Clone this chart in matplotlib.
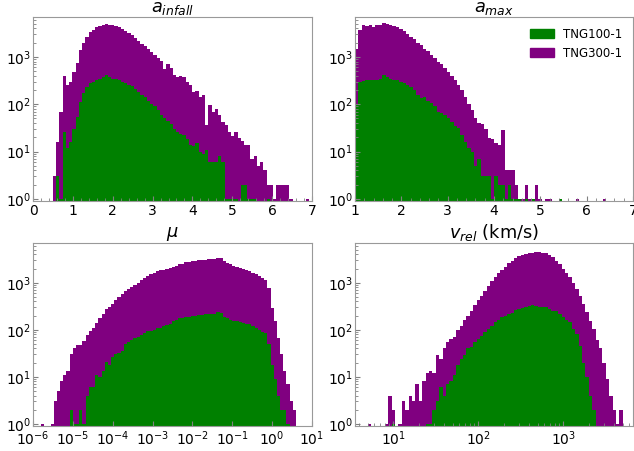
import numpy as np
import matplotlib
matplotlib.use("Agg")
import matplotlib.pyplot as plt
from matplotlib.patches import Patch

# bin edges for each quantity
infall_edges = np.linspace(0.5, 7.0, 81)
amax_edges = np.linspace(1.0, 6.5, 76)
mu_edges = np.logspace(-5.8, 0.6, 81)
vrel_edges = np.logspace(0.7, 3.7, 76)

# counts per bin, TNG300-1
infall_300 = [3, 16, 70, 400, 260, 300, 480, 750, 1400, 2000,
              2700, 3300, 3800, 4200, 4500, 4800, 5100, 4800, 4700, 4500,
              4200, 3900, 3500, 3200, 2900, 2500, 2200, 1900, 1700, 1500,
              1250, 1100, 950, 820, 560, 720, 580, 420, 380, 390,
              370, 290, 255, 185, 190, 140, 155, 36, 96, 70,
              78, 60, 43, 36, 26, 21, 26, 19, 17, 14,
              14, 7, 8, 5, 6, 4, 2, 2, 1, 2,
              2, 2, 2, 1, 0, 0, 0, 0, 1, 0]
# counts per bin, TNG100-1
infall_100 = [0, 3, 1, 26, 12, 16, 30, 55, 110, 170,
              230, 280, 300, 320, 350, 380, 410, 370, 350, 340,
              320, 300, 280, 260, 240, 210, 180, 160, 140, 120,
              100, 90, 75, 60, 52, 45, 38, 30, 26, 24,
              22, 18, 14, 13, 15, 10, 9, 11, 6, 6,
              6, 8, 6, 1, 1, 1, 1, 0, 2, 2,
              1, 1, 1, 0, 0, 0, 1, 0, 0, 0,
              0, 0, 0, 0, 0, 0, 0, 0, 0, 0]

amax_300 = [1500, 3800, 4700, 4600, 4700, 4300, 4800, 4800, 5300, 5100,
            4800, 4500, 4300, 3900, 3500, 3100, 2700, 2400, 2000, 1800,
            1500, 1350, 1100, 950, 800, 700, 580, 480, 400, 320,
            250, 200, 140, 100, 75, 50, 40, 38, 30, 19,
            18, 15, 14, 29, 4, 4, 4, 2, 1, 1,
            2, 1, 1, 2, 1, 0, 1, 1, 0, 0,
            0, 0, 0, 0, 0, 1, 0, 0, 0, 0,
            0, 0, 0, 1, 0]
amax_100 = [100, 300, 310, 320, 320, 330, 320, 340, 415, 380,
            350, 330, 320, 300, 280, 255, 230, 200, 160, 135,
            140, 120, 106, 90, 70, 65, 59, 50, 43, 35,
            31, 22, 16, 12, 10, 5, 7, 3, 3, 3,
            1, 3, 2, 2, 1, 2, 1, 1, 1, 0,
            1, 0, 1, 0, 0, 0, 0, 0, 0, 0,
            1, 0, 0, 0, 0, 0, 0, 0, 0, 0,
            0, 0, 0, 0, 0]

mu_300 = [1, 0, 0, 1, 3, 5, 8, 11, 13, 30,
          41, 47, 47, 58, 79, 95, 110, 140, 180, 220,
          270, 310, 360, 440, 500, 580, 660, 740, 820, 910,
          1000, 1120, 1260, 1380, 1500, 1620, 1750, 1850, 1910, 1980,
          2040, 2200, 2300, 2450, 2550, 2700, 2800, 2850, 2950, 3000,
          3050, 3100, 3150, 3200, 3250, 3300, 3300, 2900, 2600, 2450,
          2300, 2150, 2040, 1950, 1850, 1780, 1650, 1500, 1380, 1250,
          1170, 780, 290, 155, 68, 30, 13, 7, 3, 2]
mu_100 = [0, 0, 0, 0, 0, 0, 0, 0, 0, 2,
          1, 1, 2, 1, 4, 6, 6, 11, 10, 13,
          21, 18, 26, 30, 32, 35, 49, 55, 60, 68,
          70, 79, 85, 92, 96, 100, 108, 110, 118, 125,
          135, 150, 160, 175, 180, 185, 190, 195, 200, 205,
          210, 215, 215, 220, 215, 240, 230, 190, 175, 160,
          155, 150, 148, 140, 135, 130, 120, 110, 100, 90,
          85, 49, 18, 9, 4, 2, 2, 1, 0, 0]

vrel_300 = [1, 0, 0, 0, 0, 1, 4, 2, 0, 1,
            3, 2, 4, 3, 7, 3, 8, 12, 13, 12,
            29, 24, 40, 55, 65, 70, 97, 123, 160, 200,
            257, 330, 420, 530, 680, 870, 1100, 1350, 1600, 1900,
            2200, 2600, 2900, 3300, 3650, 3900, 4100, 4300, 4350, 4400,
            4400, 4350, 4200, 3900, 3500, 2900, 2450, 2000, 1630, 1300,
            1000, 750, 525, 350, 235, 150, 105, 60, 40, 20,
            9, 4, 2, 1, 2]
vrel_100 = [0, 0, 0, 0, 0, 0, 0, 1, 0, 0,
            0, 0, 0, 0, 0, 0, 0, 1, 1, 2,
            3, 6, 4, 7, 8, 11, 18, 24, 29, 40,
            43, 55, 63, 75, 90, 105, 123, 145, 165, 185,
            200, 220, 230, 260, 275, 290, 310, 320, 330, 325,
            310, 300, 300, 270, 257, 245, 220, 185, 160, 145,
            105, 80, 45, 20, 10, 4, 2, 0, 0, 0,
            0, 0, 0, 0, 0]

titles = [r"$a_{infall}$", r"$a_{max}$", r"$\mu$", r"$v_{rel}$ (km/s)"]
labels = ["TNG100-1", "TNG300-1"]
colors = ["green", "purple"]

panels = [
    (infall_edges, infall_300, infall_100),
    (amax_edges, amax_300, amax_100),
    (mu_edges, mu_300, mu_100),
    (vrel_edges, vrel_300, vrel_100),
]

W, H = 634, 451
fig = plt.figure(figsize=(W / 100, H / 100), dpi=100)

# axes boxes in pixels: left, top, right, bottom
boxes = [(33, 17, 312, 201), (355, 17, 633, 201),
         (33, 243, 312, 426), (355, 243, 633, 426)]

axes = []
for (l, t, r, b) in boxes:
    axes.append(fig.add_axes([l / W, 1 - b / H, (r - l) / W, (b - t) / H]))

for ax, (edges, n300, n100), title in zip(axes, panels, titles):
    ax.hist(edges[:-1], bins=edges, weights=n300, histtype="stepfilled",
            color=colors[1], log=True)
    ax.hist(edges[:-1], bins=edges, weights=n100, histtype="stepfilled",
            color=colors[0], log=True)
    ax.set_ylim(0.9, 7000)
    ax.set_yticks([1, 10, 100, 1000])
    ax.set_title(title, fontsize=12.8, pad=2)
    for s in ax.spines.values():
        s.set_color("0.6")

axes[0].set_xlim(0, 7)
axes[0].set_xticks(range(0, 8))
axes[1].set_xlim(1, 7)
axes[1].set_xticks(range(1, 8))
axes[2].set_xscale("log")
axes[2].set_xlim(1e-6, 1e1)
axes[2].set_xticks([10.0 ** k for k in range(-6, 2)])
axes[3].set_xscale("log")
axes[3].set_xlim(10 ** 0.55, 10 ** 3.82)

for ax in axes:
    ax.minorticks_on()
    ax.tick_params(which="both", direction="in", color="0.5", labelsize=10)
    ax.tick_params(axis="y", pad=1.5)
    ax.tick_params(axis="x", pad=2.5)

handles = [Patch(color=c, label=lab) for c, lab in zip(colors, labels)]
axes[1].legend(handles=handles, loc="upper right", frameon=False, fontsize=8.5)

fig.savefig("out.png", dpi=100)
